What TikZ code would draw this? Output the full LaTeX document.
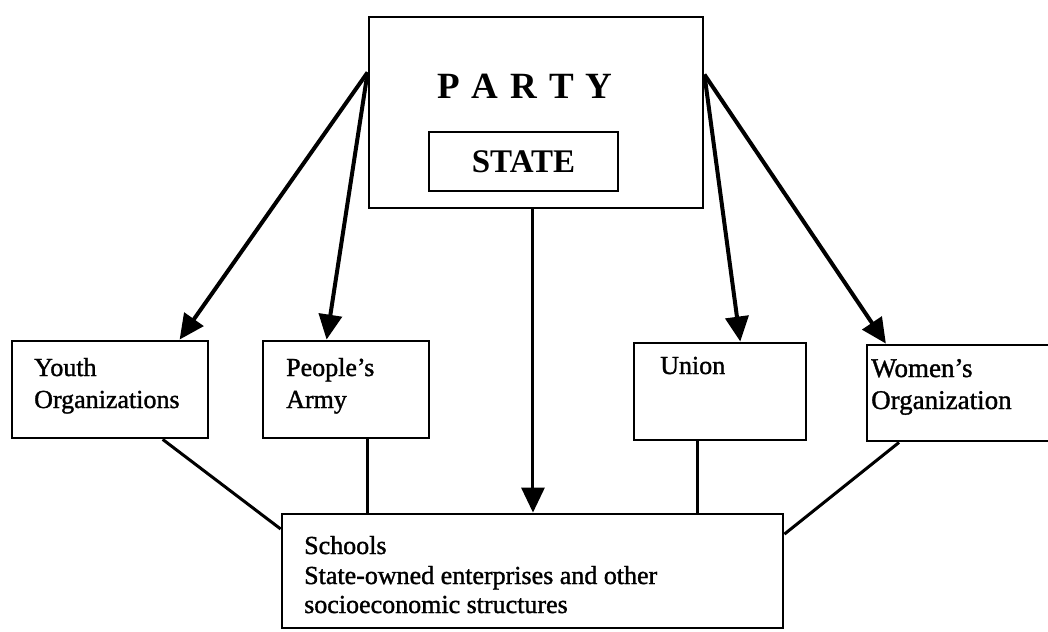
\documentclass[tikz,border=0pt]{standalone}
\usepackage{fontspec}
\setmainfont{Liberation Serif}
\newfontfamily\heavyserif[FakeBold=1.3]{Liberation Serif}
\usetikzlibrary{arrows.meta,calc}
\begin{document}
\begin{tikzpicture}[x=1pt,y=-1pt,
  box/.style={draw, line width=2.8pt, inner sep=0pt},
  lbl/.style={anchor=base west, inner sep=0pt, font=\heavyserif\fontsize{26}{31}\selectfont},
  wlbl/.style={anchor=base west, inner sep=0pt, font=\heavyserif\fontsize{27}{31}\selectfont},
  arr/.style={line width=4pt, -{Triangle[length=25pt,width=23pt]}},
  carr/.style={line width=3pt, -{Triangle[length=25pt,width=23pt]}},
  conn/.style={line width=3pt}]
\useasboundingbox (0,0) rectangle (1048,631);

% boxes
\node[box, minimum width=334pt, minimum height=191pt] (party) at (536,112.5) {};
\node[inner sep=0pt, font=\bfseries\fontsize{37}{37}\selectfont] (partyt) at (525,86)
  {P\hspace{12pt}A\hspace{12pt}R\hspace{12pt}T\hspace{12pt}Y};
\node[box, minimum width=189pt, minimum height=59pt, font=\bfseries\fontsize{33}{33}\selectfont] (state) at (523.5,161.5) {STATE};

\node[box, minimum width=196pt, minimum height=97pt] (youth) at (110,389.5) {};
\node[box, minimum width=166pt, minimum height=97pt] (army) at (346,389.5) {};
\node[box, minimum width=172pt, minimum height=97pt] (union) at (720,391.5) {};
\node[box, minimum width=185pt, minimum height=96pt] (women) at (959.5,393) {};
\node[box, minimum width=501pt, minimum height=114pt] (base) at (532.5,571) {};

% labels
\node[lbl] (y1) at (34,376) {Youth};
\node[lbl] (y2) at (34,408) {Organizations};
\node[lbl] (a1) at (286,376) {People’s};
\node[lbl] (a2) at (286,408) {Army};
\node[lbl] (u1) at (660,374) {Union};
\node[wlbl] (w1) at (871,377) {Women’s};
\node[wlbl] (w2) at (871,409) {Organization};
\node[lbl] (b1) at (304,554) {Schools};
\node[lbl] (b2) at (304,584) {State-owned enterprises and other};
\node[lbl] (b3) at (304,613) {socioeconomic structures};

% arrow origins on party box
\coordinate (pL) at ($(party.north west)!0.293!(party.south west)$);
\coordinate (pR) at ($(party.north east)!0.304!(party.south east)$);
\coordinate (pS) at ($(party.south west)!0.491!(party.south east)$);

\draw[arr] (pL) -- ($(youth.north west)!0.85!(youth.north east)$);
\draw[arr] (pL) -- ($(army.north west)!0.385!(army.north east)$);
\draw[arr] (pR) -- ($(union.north west)!0.616!(union.north east)$);
\draw[arr] (pR) -- ($(women.north west)!0.108!(women.north east)$);
\draw[carr] (pS) -- (pS |- base.north);

% connectors to base
\draw[conn] ($(youth.south west)!0.765!(youth.south east)$) -- ($(base.north west)!0.14!(base.south west)$);
\coordinate (aS) at ($(army.south west)!0.627!(army.south east)$);
\draw[conn] (aS) -- (aS |- base.north);
\coordinate (uS) at ($(union.south west)!0.372!(union.south east)$);
\draw[conn] (uS) -- (uS |- base.north);
\draw[conn] ($(women.south west)!0.178!(women.south east)$) -- ($(base.north east)!0.184!(base.south east)$);
\end{tikzpicture}
\end{document}
